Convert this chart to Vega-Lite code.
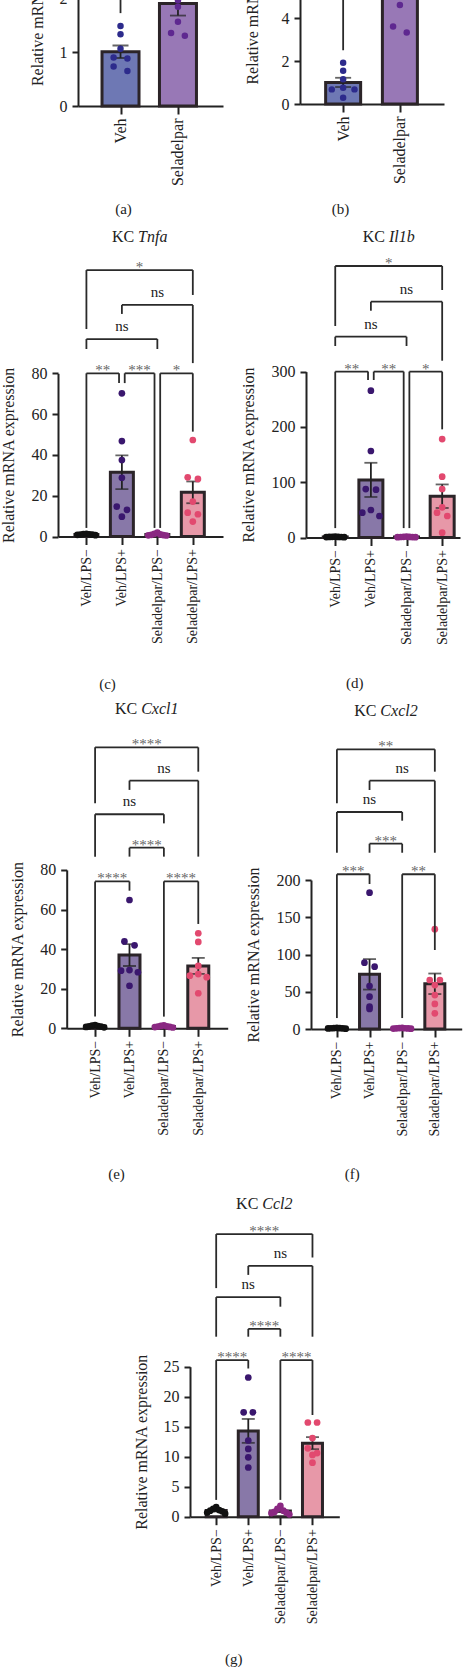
{
  "$schema": "https://vega.github.io/schema/vega-lite/v6.json",
  "width": 474,
  "height": 1667,
  "autosize": "none",
  "padding": 0,
  "datasets": {
    "pts": [
      {"p":"a","g":"Veh","v":1.48},{"p":"a","g":"Veh","v":1.33},{"p":"a","g":"Veh","v":1.06},{"p":"a","g":"Veh","v":0.88},{"p":"a","g":"Veh","v":0.90},{"p":"a","g":"Veh","v":0.65},{"p":"a","g":"Veh","v":0.73},
      {"p":"a","g":"Seladelpar","v":1.96},{"p":"a","g":"Seladelpar","v":1.84},{"p":"a","g":"Seladelpar","v":1.56},{"p":"a","g":"Seladelpar","v":1.30},{"p":"a","g":"Seladelpar","v":1.35},{"p":"a","g":"Seladelpar","v":2.30},{"p":"a","g":"Seladelpar","v":2.99},
      {"p":"b","g":"Veh","v":1.92},{"p":"b","g":"Veh","v":1.55},{"p":"b","g":"Veh","v":1.15},{"p":"b","g":"Veh","v":0.76},{"p":"b","g":"Veh","v":0.68},{"p":"b","g":"Veh","v":0.68},{"p":"b","g":"Veh","v":0.29},
      {"p":"b","g":"Seladelpar","v":4.6},{"p":"b","g":"Seladelpar","v":3.33},{"p":"b","g":"Seladelpar","v":3.6},{"p":"b","g":"Seladelpar","v":5.6},{"p":"b","g":"Seladelpar","v":6.4},{"p":"b","g":"Seladelpar","v":7.0},{"p":"b","g":"Seladelpar","v":9.5},
      {"p":"c","g":"Veh/LPS−","v":1.35},{"p":"c","g":"Veh/LPS−","v":1.2},{"p":"c","g":"Veh/LPS−","v":1.05},{"p":"c","g":"Veh/LPS−","v":0.95},{"p":"c","g":"Veh/LPS−","v":0.9},{"p":"c","g":"Veh/LPS−","v":0.8},{"p":"c","g":"Veh/LPS−","v":0.65},
      {"p":"c","g":"Veh/LPS+","v":70.2},{"p":"c","g":"Veh/LPS+","v":46.8},{"p":"c","g":"Veh/LPS+","v":37.5},{"p":"c","g":"Veh/LPS+","v":28.8},{"p":"c","g":"Veh/LPS+","v":14.6},{"p":"c","g":"Veh/LPS+","v":13.1},{"p":"c","g":"Veh/LPS+","v":9.7},
      {"p":"c","g":"Seladelpar/LPS−","v":1.9},{"p":"c","g":"Seladelpar/LPS−","v":1.3},{"p":"c","g":"Seladelpar/LPS−","v":1.0},{"p":"c","g":"Seladelpar/LPS−","v":0.8},{"p":"c","g":"Seladelpar/LPS−","v":0.7},{"p":"c","g":"Seladelpar/LPS−","v":0.6},{"p":"c","g":"Seladelpar/LPS−","v":0.5},
      {"p":"c","g":"Seladelpar/LPS+","v":47.3},{"p":"c","g":"Seladelpar/LPS+","v":29.0},{"p":"c","g":"Seladelpar/LPS+","v":28.2},{"p":"c","g":"Seladelpar/LPS+","v":17.1},{"p":"c","g":"Seladelpar/LPS+","v":11.7},{"p":"c","g":"Seladelpar/LPS+","v":10.9},{"p":"c","g":"Seladelpar/LPS+","v":7.3},
      {"p":"d","g":"Veh/LPS−","v":1.5},{"p":"d","g":"Veh/LPS−","v":1.3},{"p":"d","g":"Veh/LPS−","v":1.1},{"p":"d","g":"Veh/LPS−","v":1.0},{"p":"d","g":"Veh/LPS−","v":0.9},{"p":"d","g":"Veh/LPS−","v":0.7},{"p":"d","g":"Veh/LPS−","v":0.5},
      {"p":"d","g":"Veh/LPS+","v":265.5},{"p":"d","g":"Veh/LPS+","v":156.4},{"p":"d","g":"Veh/LPS+","v":87.5},{"p":"d","g":"Veh/LPS+","v":86.5},{"p":"d","g":"Veh/LPS+","v":49.7},{"p":"d","g":"Veh/LPS+","v":44.8},{"p":"d","g":"Veh/LPS+","v":38.9},
      {"p":"d","g":"Seladelpar/LPS−","v":1.6},{"p":"d","g":"Seladelpar/LPS−","v":1.2},{"p":"d","g":"Seladelpar/LPS−","v":1.0},{"p":"d","g":"Seladelpar/LPS−","v":0.9},{"p":"d","g":"Seladelpar/LPS−","v":0.8},{"p":"d","g":"Seladelpar/LPS−","v":0.6},{"p":"d","g":"Seladelpar/LPS−","v":0.5},
      {"p":"d","g":"Seladelpar/LPS+","v":178},{"p":"d","g":"Seladelpar/LPS+","v":110},{"p":"d","g":"Seladelpar/LPS+","v":87.7},{"p":"d","g":"Seladelpar/LPS+","v":54.6},{"p":"d","g":"Seladelpar/LPS+","v":44.8},{"p":"d","g":"Seladelpar/LPS+","v":38.9},{"p":"d","g":"Seladelpar/LPS+","v":8.7},
      {"p":"e","g":"Veh/LPS−","v":1.6},{"p":"e","g":"Veh/LPS−","v":1.3},{"p":"e","g":"Veh/LPS−","v":1.1},{"p":"e","g":"Veh/LPS−","v":1.0},{"p":"e","g":"Veh/LPS−","v":0.9},{"p":"e","g":"Veh/LPS−","v":0.7},{"p":"e","g":"Veh/LPS−","v":0.5},
      {"p":"e","g":"Veh/LPS+","v":64.8},{"p":"e","g":"Veh/LPS+","v":43.9},{"p":"e","g":"Veh/LPS+","v":41.9},{"p":"e","g":"Veh/LPS+","v":29.4},{"p":"e","g":"Veh/LPS+","v":29.1},{"p":"e","g":"Veh/LPS+","v":28.3},{"p":"e","g":"Veh/LPS+","v":21.5},
      {"p":"e","g":"Seladelpar/LPS−","v":1.5},{"p":"e","g":"Seladelpar/LPS−","v":1.2},{"p":"e","g":"Seladelpar/LPS−","v":1.0},{"p":"e","g":"Seladelpar/LPS−","v":0.9},{"p":"e","g":"Seladelpar/LPS−","v":0.7},{"p":"e","g":"Seladelpar/LPS−","v":0.6},{"p":"e","g":"Seladelpar/LPS−","v":0.4},
      {"p":"e","g":"Seladelpar/LPS+","v":48.0},{"p":"e","g":"Seladelpar/LPS+","v":43.6},{"p":"e","g":"Seladelpar/LPS+","v":31.5},{"p":"e","g":"Seladelpar/LPS+","v":27.4},{"p":"e","g":"Seladelpar/LPS+","v":26.6},{"p":"e","g":"Seladelpar/LPS+","v":25.8},{"p":"e","g":"Seladelpar/LPS+","v":17.7},
      {"p":"f","g":"Veh/LPS−","v":1.6},{"p":"f","g":"Veh/LPS−","v":1.3},{"p":"f","g":"Veh/LPS−","v":1.1},{"p":"f","g":"Veh/LPS−","v":1.0},{"p":"f","g":"Veh/LPS−","v":0.9},{"p":"f","g":"Veh/LPS−","v":0.7},{"p":"f","g":"Veh/LPS−","v":0.5},
      {"p":"f","g":"Veh/LPS+","v":183},{"p":"f","g":"Veh/LPS+","v":89},{"p":"f","g":"Veh/LPS+","v":83.6},{"p":"f","g":"Veh/LPS+","v":57.7},{"p":"f","g":"Veh/LPS+","v":43.4},{"p":"f","g":"Veh/LPS+","v":30},{"p":"f","g":"Veh/LPS+","v":27},
      {"p":"f","g":"Seladelpar/LPS−","v":1.5},{"p":"f","g":"Seladelpar/LPS−","v":1.2},{"p":"f","g":"Seladelpar/LPS−","v":1.0},{"p":"f","g":"Seladelpar/LPS−","v":0.9},{"p":"f","g":"Seladelpar/LPS−","v":0.7},{"p":"f","g":"Seladelpar/LPS−","v":0.6},{"p":"f","g":"Seladelpar/LPS−","v":0.4},
      {"p":"f","g":"Seladelpar/LPS+","v":134},{"p":"f","g":"Seladelpar/LPS+","v":65.8},{"p":"f","g":"Seladelpar/LPS+","v":65.8},{"p":"f","g":"Seladelpar/LPS+","v":59},{"p":"f","g":"Seladelpar/LPS+","v":45.6},{"p":"f","g":"Seladelpar/LPS+","v":33.6},{"p":"f","g":"Seladelpar/LPS+","v":21},
      {"p":"g","g":"Veh/LPS−","v":1.6},{"p":"g","g":"Veh/LPS−","v":1.3},{"p":"g","g":"Veh/LPS−","v":1.1},{"p":"g","g":"Veh/LPS−","v":1.0},{"p":"g","g":"Veh/LPS−","v":0.9},{"p":"g","g":"Veh/LPS−","v":0.7},{"p":"g","g":"Veh/LPS−","v":0.5},
      {"p":"g","g":"Veh/LPS+","v":23.2},{"p":"g","g":"Veh/LPS+","v":17.4},{"p":"g","g":"Veh/LPS+","v":17.4},{"p":"g","g":"Veh/LPS+","v":12.7},{"p":"g","g":"Veh/LPS+","v":11.3},{"p":"g","g":"Veh/LPS+","v":9.9},{"p":"g","g":"Veh/LPS+","v":8.2},
      {"p":"g","g":"Seladelpar/LPS−","v":1.8},{"p":"g","g":"Seladelpar/LPS−","v":1.3},{"p":"g","g":"Seladelpar/LPS−","v":1.0},{"p":"g","g":"Seladelpar/LPS−","v":0.8},{"p":"g","g":"Seladelpar/LPS−","v":0.7},{"p":"g","g":"Seladelpar/LPS−","v":0.6},{"p":"g","g":"Seladelpar/LPS−","v":0.4},
      {"p":"g","g":"Seladelpar/LPS+","v":15.7},{"p":"g","g":"Seladelpar/LPS+","v":15.7},{"p":"g","g":"Seladelpar/LPS+","v":13.1},{"p":"g","g":"Seladelpar/LPS+","v":11.4},{"p":"g","g":"Seladelpar/LPS+","v":10.6},{"p":"g","g":"Seladelpar/LPS+","v":10.3},{"p":"g","g":"Seladelpar/LPS+","v":9.0}
    ],
    "br": [
      {"p":"a","a":"Veh","b":"Seladelpar","y":3.5,"ya":1.72,"yb":3.2,"t":""},
      {"p":"b","a":"Veh","b":"Seladelpar","y":10.6,"ya":2.5,"yb":10.1,"t":""},
      {"p":"c","a":"Veh/LPS−","b":"Veh/LPS+","y":80,"ya":4.2,"yb":75.2,"t":"**"},
      {"p":"c","a":"Veh/LPS+","b":"Seladelpar/LPS−","y":80,"ya":75.2,"yb":4.2,"t":"***"},
      {"p":"c","a":"Seladelpar/LPS−","b":"Seladelpar/LPS+","y":80,"ya":4.2,"yb":51.4,"t":"*"},
      {"p":"c","a":"Veh/LPS−","b":"Seladelpar/LPS−","y":96.8,"ya":91.9,"yb":91.9,"t":"ns"},
      {"p":"c","a":"Veh/LPS+","b":"Seladelpar/LPS+","y":113.5,"ya":109.1,"yb":85.0,"t":"ns"},
      {"p":"c","a":"Veh/LPS−","b":"Seladelpar/LPS+","y":130.6,"ya":101.7,"yb":118.4,"t":"*"},
      {"p":"d","a":"Veh/LPS−","b":"Veh/LPS+","y":300,"ya":17,"yb":284.8,"t":"**"},
      {"p":"d","a":"Veh/LPS+","b":"Seladelpar/LPS−","y":300,"ya":284.8,"yb":17,"t":"**"},
      {"p":"d","a":"Seladelpar/LPS−","b":"Seladelpar/LPS+","y":300,"ya":17,"yb":195.6,"t":"*"},
      {"p":"d","a":"Veh/LPS−","b":"Seladelpar/LPS−","y":363.1,"ya":346.3,"yb":346.3,"t":"ns"},
      {"p":"d","a":"Veh/LPS+","b":"Seladelpar/LPS+","y":426.4,"ya":410.1,"yb":319.7,"t":"ns"},
      {"p":"d","a":"Veh/LPS−","b":"Seladelpar/LPS+","y":491,"ya":382.5,"yb":447.6,"t":"*"},
      {"p":"e","a":"Veh/LPS−","b":"Veh/LPS+","y":74.2,"ya":5.9,"yb":69.5,"t":"****"},
      {"p":"e","a":"Seladelpar/LPS−","b":"Seladelpar/LPS+","y":74.2,"ya":5.9,"yb":52.7,"t":"****"},
      {"p":"e","a":"Veh/LPS+","b":"Seladelpar/LPS−","y":91.2,"ya":86.7,"yb":86.7,"t":"****"},
      {"p":"e","a":"Veh/LPS−","b":"Seladelpar/LPS−","y":108.1,"ya":86.7,"yb":103.5,"t":"ns"},
      {"p":"e","a":"Veh/LPS+","b":"Seladelpar/LPS+","y":125.1,"ya":120.4,"yb":86.7,"t":"ns"},
      {"p":"e","a":"Veh/LPS−","b":"Seladelpar/LPS+","y":141.9,"ya":113.6,"yb":129.6,"t":"****"},
      {"p":"f","a":"Veh/LPS−","b":"Veh/LPS+","y":207.7,"ya":14.7,"yb":194.6,"t":"***"},
      {"p":"f","a":"Seladelpar/LPS−","b":"Seladelpar/LPS+","y":207.7,"ya":14.7,"yb":106,"t":"**"},
      {"p":"f","a":"Veh/LPS+","b":"Seladelpar/LPS−","y":248.7,"ya":236.6,"yb":236.6,"t":"***"},
      {"p":"f","a":"Veh/LPS−","b":"Seladelpar/LPS−","y":291.3,"ya":236.6,"yb":279.6,"t":"ns"},
      {"p":"f","a":"Veh/LPS+","b":"Seladelpar/LPS+","y":333.3,"ya":320.8,"yb":236.6,"t":"ns"},
      {"p":"f","a":"Veh/LPS−","b":"Seladelpar/LPS+","y":375.4,"ya":303,"yb":345.4,"t":"**"},
      {"p":"g","a":"Veh/LPS−","b":"Veh/LPS+","y":26.1,"ya":2.8,"yb":24.7,"t":"****"},
      {"p":"g","a":"Seladelpar/LPS−","b":"Seladelpar/LPS+","y":26.1,"ya":2.8,"yb":16.95,"t":"****"},
      {"p":"g","a":"Veh/LPS+","b":"Seladelpar/LPS−","y":31.3,"ya":30,"yb":30,"t":"****"},
      {"p":"g","a":"Veh/LPS−","b":"Seladelpar/LPS−","y":36.6,"ya":30,"yb":35,"t":"ns"},
      {"p":"g","a":"Veh/LPS+","b":"Seladelpar/LPS+","y":41.8,"ya":40.3,"yb":30,"t":"ns"},
      {"p":"g","a":"Veh/LPS−","b":"Seladelpar/LPS+","y":47.1,"ya":38.1,"yb":43.2,"t":"****"}
    ]
  },
  "resolve": {"scale": {"x": "independent", "y": "independent"}},
  "layer": [
    {
      "layer": [
        {
          "data": {"name": "pts"},
          "transform": [
            {"filter": "datum.p == 'a'"},
            {"aggregate": [{"op": "mean", "field": "v", "as": "m"}, {"op": "stderr", "field": "v", "as": "se"}], "groupby": ["g"]},
            {"calculate": "indexof(['Veh','Seladelpar'], datum.g)", "as": "i"},
            {"calculate": "datum.m - datum.se", "as": "lo"},
            {"calculate": "datum.m + datum.se", "as": "hi"}
          ],
          "layer": [
            {"mark": {"type": "bar", "width": 37, "stroke": "#2b2428", "strokeWidth": 3},
             "encoding": {
               "x": {"field": "i", "type": "quantitative", "scale": {"domain": [-0.653, 1.697], "range": [78, 223], "nice": false, "zero": false},
                     "axis": {"orient": "bottom", "offset": -1561, "values": [0, 1], "labelExpr": "['Veh','Seladelpar'][datum.value]", "labelFontSize": 16, "title": "(a)", "titleX": 123, "titleY": 102, "titleBaseline": "middle", "titleFontSize": 15}},
               "y": {"field": "m", "type": "quantitative", "scale": {"domain": [0, 4], "range": [106, -110], "nice": false, "zero": true},
                     "axis": {"orient": "left", "offset": -78, "values": [0, 1, 2, 3, 4], "format": "d", "title": "Relative mRNA expression", "titleX": -41, "titleBaseline": "middle"}},
               "fill": {"field": "g", "type": "nominal", "legend": null,
                        "scale": {"domain": ["Veh","Seladelpar","Veh/LPS−","Veh/LPS+","Seladelpar/LPS−","Seladelpar/LPS+"], "range": ["#6e78b4","#9878b6","#ffffff","#8878a8","#ffffff","#e798a8"]}}
             }},
            {"mark": {"type": "rule", "color": "#222", "strokeWidth": 1.8},
             "encoding": {"x": {"field": "i", "type": "quantitative"}, "y": {"field": "lo", "type": "quantitative"}, "y2": {"field": "hi"}}},
            {"mark": {"type": "tick", "orient": "horizontal", "color": "#222", "thickness": 1.8, "size": 16},
             "encoding": {"x": {"field": "i", "type": "quantitative"}, "y": {"field": "hi", "type": "quantitative"}}},
            {"mark": {"type": "tick", "orient": "horizontal", "color": "#222", "thickness": 1.8, "size": 16},
             "encoding": {"x": {"field": "i", "type": "quantitative"}, "y": {"field": "lo", "type": "quantitative"}}}
          ]
        },
        {
          "data": {"name": "pts"},
          "transform": [
            {"filter": "datum.p == 'a'"},
            {"calculate": "indexof(['Veh','Seladelpar'], datum.g)", "as": "i"},
            {"calculate": "floor(datum.v / 0.13)", "as": "r"},
            {"window": [{"op": "row_number", "as": "k"}, {"op": "count", "as": "n"}], "groupby": ["g", "r"], "sort": [{"field": "v", "order": "descending"}], "frame": [null, null]},
            {"calculate": "datum.n % 2 == 1 ? (datum.k == 1 ? 0 : (datum.k % 2 == 0 ? -1 : 1) * floor(datum.k / 2)) : (datum.k % 2 == 1 ? -1 : 1) * (floor((datum.k - 1) / 2) + 0.6)", "as": "o"},
            {"calculate": "datum.i + datum.o * 0.2", "as": "xj"}
          ],
          "mark": {"type": "circle", "size": 42, "opacity": 1},
          "encoding": {
            "x": {"field": "xj", "type": "quantitative"},
            "y": {"field": "v", "type": "quantitative"},
            "color": {"field": "g", "type": "nominal", "legend": null,
                      "scale": {"domain": ["Veh","Seladelpar","Veh/LPS−","Veh/LPS+","Seladelpar/LPS−","Seladelpar/LPS+"], "range": ["#2d2b8c","#5e2890","#111111","#3a176e","#8a2882","#e2496f"]}}
          }
        },
        {
          "data": {"name": "br"},
          "transform": [
            {"filter": "datum.p == 'a'"},
            {"calculate": "indexof(['Veh','Seladelpar'], datum.a)", "as": "xa"},
            {"calculate": "indexof(['Veh','Seladelpar'], datum.b)", "as": "xb"}
          ],
          "layer": [
            {"mark": {"type": "rule", "color": "#2a2a2a", "strokeWidth": 1.8}, "encoding": {"x": {"field": "xa", "type": "quantitative"}, "x2": {"field": "xb"}, "y": {"field": "y", "type": "quantitative"}}},
            {"mark": {"type": "rule", "color": "#2a2a2a", "strokeWidth": 1.8}, "encoding": {"x": {"field": "xa", "type": "quantitative"}, "y": {"field": "y", "type": "quantitative"}, "y2": {"field": "ya"}}},
            {"mark": {"type": "rule", "color": "#2a2a2a", "strokeWidth": 1.8}, "encoding": {"x": {"field": "xb", "type": "quantitative"}, "y": {"field": "y", "type": "quantitative"}, "y2": {"field": "yb"}}}
          ]
        }
      ]
    },
    {
      "layer": [
        {
          "data": {"name": "pts"},
          "transform": [
            {"filter": "datum.p == 'b'"},
            {"aggregate": [{"op": "mean", "field": "v", "as": "m"}, {"op": "stderr", "field": "v", "as": "se"}], "groupby": ["g"]},
            {"calculate": "indexof(['Veh','Seladelpar'], datum.g)", "as": "i"},
            {"calculate": "datum.m - datum.se", "as": "lo"},
            {"calculate": "datum.m + datum.se", "as": "hi"}
          ],
          "layer": [
            {"mark": {"type": "bar", "width": 35, "stroke": "#2b2428", "strokeWidth": 3},
             "encoding": {
               "x": {"field": "i", "type": "quantitative", "scale": {"domain": [-0.672, 1.689], "range": [300, 444], "nice": false, "zero": false},
                     "axis": {"orient": "bottom", "offset": -1563, "values": [0, 1], "labelExpr": "['Veh','Seladelpar'][datum.value]", "labelFontSize": 16, "title": "(b)", "titleX": 340, "titleY": 104, "titleBaseline": "middle", "titleFontSize": 15}},
               "y": {"field": "m", "type": "quantitative", "scale": {"domain": [0, 10], "range": [104, -111], "nice": false, "zero": true},
                     "axis": {"orient": "left", "offset": -300, "values": [0, 2, 4, 6, 8, 10], "format": "d", "title": "Relative mRNA expression", "titleX": -48, "titleBaseline": "middle"}},
               "fill": {"field": "g", "type": "nominal", "legend": null,
                        "scale": {"domain": ["Veh","Seladelpar","Veh/LPS−","Veh/LPS+","Seladelpar/LPS−","Seladelpar/LPS+"], "range": ["#6e78b4","#9878b6","#ffffff","#8878a8","#ffffff","#e798a8"]}}
             }},
            {"mark": {"type": "rule", "color": "#222", "strokeWidth": 1.8},
             "encoding": {"x": {"field": "i", "type": "quantitative"}, "y": {"field": "lo", "type": "quantitative"}, "y2": {"field": "hi"}}},
            {"mark": {"type": "tick", "orient": "horizontal", "color": "#222", "thickness": 1.8, "size": 16},
             "encoding": {"x": {"field": "i", "type": "quantitative"}, "y": {"field": "hi", "type": "quantitative"}}},
            {"mark": {"type": "tick", "orient": "horizontal", "color": "#222", "thickness": 1.8, "size": 16},
             "encoding": {"x": {"field": "i", "type": "quantitative"}, "y": {"field": "lo", "type": "quantitative"}}}
          ]
        },
        {
          "data": {"name": "pts"},
          "transform": [
            {"filter": "datum.p == 'b'"},
            {"calculate": "indexof(['Veh','Seladelpar'], datum.g)", "as": "i"},
            {"calculate": "floor(datum.v / 0.33)", "as": "r"},
            {"window": [{"op": "row_number", "as": "k"}, {"op": "count", "as": "n"}], "groupby": ["g", "r"], "sort": [{"field": "v", "order": "descending"}], "frame": [null, null]},
            {"calculate": "datum.n % 2 == 1 ? (datum.k == 1 ? 0 : (datum.k % 2 == 0 ? -1 : 1) * floor(datum.k / 2)) : (datum.k % 2 == 1 ? -1 : 1) * (floor((datum.k - 1) / 2) + 0.6)", "as": "o"},
            {"calculate": "datum.i + datum.o * 0.2", "as": "xj"}
          ],
          "mark": {"type": "circle", "size": 42, "opacity": 1},
          "encoding": {
            "x": {"field": "xj", "type": "quantitative"},
            "y": {"field": "v", "type": "quantitative"},
            "color": {"field": "g", "type": "nominal", "legend": null,
                      "scale": {"domain": ["Veh","Seladelpar","Veh/LPS−","Veh/LPS+","Seladelpar/LPS−","Seladelpar/LPS+"], "range": ["#2d2b8c","#5e2890","#111111","#3a176e","#8a2882","#e2496f"]}}
          }
        },
        {
          "data": {"name": "br"},
          "transform": [
            {"filter": "datum.p == 'b'"},
            {"calculate": "indexof(['Veh','Seladelpar'], datum.a)", "as": "xa"},
            {"calculate": "indexof(['Veh','Seladelpar'], datum.b)", "as": "xb"}
          ],
          "layer": [
            {"mark": {"type": "rule", "color": "#2a2a2a", "strokeWidth": 1.8}, "encoding": {"x": {"field": "xa", "type": "quantitative"}, "x2": {"field": "xb"}, "y": {"field": "y", "type": "quantitative"}}},
            {"mark": {"type": "rule", "color": "#2a2a2a", "strokeWidth": 1.8}, "encoding": {"x": {"field": "xa", "type": "quantitative"}, "y": {"field": "y", "type": "quantitative"}, "y2": {"field": "ya"}}},
            {"mark": {"type": "rule", "color": "#2a2a2a", "strokeWidth": 1.8}, "encoding": {"x": {"field": "xb", "type": "quantitative"}, "y": {"field": "y", "type": "quantitative"}, "y2": {"field": "yb"}}}
          ]
        }
      ]
    },
    {
      "layer": [
        {
          "data": {"name": "pts"},
          "transform": [
            {"filter": "datum.p == 'c'"},
            {"aggregate": [{"op": "mean", "field": "v", "as": "m"}, {"op": "stderr", "field": "v", "as": "se"}], "groupby": ["g"]},
            {"calculate": "indexof(['Veh/LPS−','Veh/LPS+','Seladelpar/LPS−','Seladelpar/LPS+'], datum.g)", "as": "i"},
            {"calculate": "datum.m - datum.se", "as": "lo"},
            {"calculate": "datum.m + datum.se", "as": "hi"}
          ],
          "layer": [
            {"mark": {"type": "bar", "width": 23, "stroke": "#2b2428", "strokeWidth": 3},
             "encoding": {
               "x": {"field": "i", "type": "quantitative", "scale": {"domain": [-0.66, 3.71], "range": [58, 223], "nice": false, "zero": false},
                     "axis": {"orient": "bottom", "offset": -1130.5, "values": [0, 1, 2, 3], "labelExpr": "['Veh/LPS−','Veh/LPS+','Seladelpar/LPS−','Seladelpar/LPS+'][datum.value]", "title": "(c)", "titleX": 107, "titleY": 146.5, "titleBaseline": "middle", "titleFontSize": 15}},
               "y": {"field": "m", "type": "quantitative", "scale": {"domain": [0, 80], "range": [536.5, 373.3], "nice": false, "zero": true},
                     "axis": {"orient": "left", "offset": -58, "values": [0, 20, 40, 60, 80], "format": "d", "title": "Relative mRNA expression", "titleX": -50, "titleBaseline": "middle"}},
               "fill": {"field": "g", "type": "nominal", "legend": null,
                        "scale": {"domain": ["Veh","Seladelpar","Veh/LPS−","Veh/LPS+","Seladelpar/LPS−","Seladelpar/LPS+"], "range": ["#6e78b4","#9878b6","#ffffff","#8878a8","#ffffff","#e798a8"]}}
             }},
            {"mark": {"type": "rule", "color": "#222", "strokeWidth": 1.8},
             "encoding": {"x": {"field": "i", "type": "quantitative"}, "y": {"field": "lo", "type": "quantitative"}, "y2": {"field": "hi"}}},
            {"mark": {"type": "tick", "orient": "horizontal", "color": "#222", "thickness": 1.8, "size": 13},
             "encoding": {"x": {"field": "i", "type": "quantitative"}, "y": {"field": "hi", "type": "quantitative"}}},
            {"mark": {"type": "tick", "orient": "horizontal", "color": "#222", "thickness": 1.8, "size": 13},
             "encoding": {"x": {"field": "i", "type": "quantitative"}, "y": {"field": "lo", "type": "quantitative"}}}
          ]
        },
        {
          "data": {"name": "pts"},
          "transform": [
            {"filter": "datum.p == 'c'"},
            {"calculate": "indexof(['Veh/LPS−','Veh/LPS+','Seladelpar/LPS−','Seladelpar/LPS+'], datum.g)", "as": "i"},
            {"calculate": "datum.v < 3 ? -1 : floor(datum.v / 4)", "as": "r"},
            {"window": [{"op": "row_number", "as": "k"}, {"op": "count", "as": "n"}], "groupby": ["g", "r"], "sort": [{"field": "v", "order": "descending"}], "frame": [null, null]},
            {"calculate": "datum.n % 2 == 1 ? (datum.k == 1 ? 0 : (datum.k % 2 == 0 ? -1 : 1) * floor(datum.k / 2)) : (datum.k % 2 == 1 ? -1 : 1) * (floor((datum.k - 1) / 2) + 0.6)", "as": "o"},
            {"calculate": "datum.i + datum.o * (datum.n > 3 ? 0.085 : 0.24)", "as": "xj"}
          ],
          "mark": {"type": "circle", "size": 45, "opacity": 1},
          "encoding": {
            "x": {"field": "xj", "type": "quantitative"},
            "y": {"field": "v", "type": "quantitative"},
            "color": {"field": "g", "type": "nominal", "legend": null,
                      "scale": {"domain": ["Veh","Seladelpar","Veh/LPS−","Veh/LPS+","Seladelpar/LPS−","Seladelpar/LPS+"], "range": ["#2d2b8c","#5e2890","#111111","#3a176e","#8a2882","#e2496f"]}}
          }
        },
        {
          "data": {"name": "br"},
          "transform": [
            {"filter": "datum.p == 'c'"},
            {"calculate": "indexof(['Veh/LPS−','Veh/LPS+','Seladelpar/LPS−','Seladelpar/LPS+'], datum.a)", "as": "ia"},
            {"calculate": "indexof(['Veh/LPS−','Veh/LPS+','Seladelpar/LPS−','Seladelpar/LPS+'], datum.b)", "as": "ib"},
            {"window": [{"op": "lag", "field": "ib", "as": "pb"}, {"op": "lead", "field": "ia", "as": "na"}], "groupby": ["y"], "sort": [{"field": "ia", "order": "ascending"}]},
            {"calculate": "datum.ia + (datum.pb == datum.ia ? 0.08 : 0)", "as": "xa"},
            {"calculate": "datum.ib - (datum.na == datum.ib ? 0.08 : 0)", "as": "xb"},
            {"calculate": "(datum.xa + datum.xb) / 2", "as": "xm"}
          ],
          "layer": [
            {"mark": {"type": "rule", "color": "#2a2a2a", "strokeWidth": 1.8}, "encoding": {"x": {"field": "xa", "type": "quantitative"}, "x2": {"field": "xb"}, "y": {"field": "y", "type": "quantitative"}}},
            {"mark": {"type": "rule", "color": "#2a2a2a", "strokeWidth": 1.8}, "encoding": {"x": {"field": "xa", "type": "quantitative"}, "y": {"field": "y", "type": "quantitative"}, "y2": {"field": "ya"}}},
            {"mark": {"type": "rule", "color": "#2a2a2a", "strokeWidth": 1.8}, "encoding": {"x": {"field": "xb", "type": "quantitative"}, "y": {"field": "y", "type": "quantitative"}, "y2": {"field": "yb"}}},
            {"transform": [{"filter": "datum.t == 'ns'"}], "mark": {"type": "text", "baseline": "alphabetic", "dy": -8, "fontSize": 15, "color": "#222"},
             "encoding": {"x": {"field": "xm", "type": "quantitative"}, "y": {"field": "y", "type": "quantitative"}, "text": {"field": "t"}}},
            {"transform": [{"filter": "datum.t != 'ns'"}], "mark": {"type": "text", "baseline": "alphabetic", "dy": 2, "fontSize": 15, "color": "#666"},
             "encoding": {"x": {"field": "xm", "type": "quantitative"}, "y": {"field": "y", "type": "quantitative"}, "text": {"field": "t"}}},
            {"transform": [{"aggregate": [{"op": "argmax", "field": "y", "as": "top"}]}, {"calculate": "datum.top.y", "as": "ty"}, {"calculate": "datum.top.xm", "as": "tx"}],
             "layer": [
               {"mark": {"type": "text", "text": "KC", "align": "right", "baseline": "middle", "dx": -5.5, "dy": -33, "fontSize": 16, "color": "#222"},
                "encoding": {"x": {"field": "tx", "type": "quantitative"}, "y": {"field": "ty", "type": "quantitative"}}},
               {"mark": {"type": "text", "text": "Tnfa", "fontStyle": "italic", "align": "left", "baseline": "middle", "dx": -1.5, "dy": -33, "fontSize": 16, "color": "#222"},
                "encoding": {"x": {"field": "tx", "type": "quantitative"}, "y": {"field": "ty", "type": "quantitative"}}}
             ]}
          ]
        }
      ]
    },
    {
      "layer": [
        {
          "data": {"name": "pts"},
          "transform": [
            {"filter": "datum.p == 'd'"},
            {"aggregate": [{"op": "mean", "field": "v", "as": "m"}, {"op": "stderr", "field": "v", "as": "se"}], "groupby": ["g"]},
            {"calculate": "indexof(['Veh/LPS−','Veh/LPS+','Seladelpar/LPS−','Seladelpar/LPS+'], datum.g)", "as": "i"},
            {"calculate": "datum.m - datum.se", "as": "lo"},
            {"calculate": "datum.m + datum.se", "as": "hi"}
          ],
          "layer": [
            {"mark": {"type": "bar", "width": 24, "stroke": "#2b2428", "strokeWidth": 3},
             "encoding": {
               "x": {"field": "i", "type": "quantitative", "scale": {"domain": [-0.68, 3.36], "range": [306, 460], "nice": false, "zero": false},
                     "axis": {"orient": "bottom", "offset": -1129.5, "values": [0, 1, 2, 3], "labelExpr": "['Veh/LPS−','Veh/LPS+','Seladelpar/LPS−','Seladelpar/LPS+'][datum.value]", "title": "(d)", "titleX": 354.3, "titleY": 145, "titleBaseline": "middle", "titleFontSize": 15}},
               "y": {"field": "m", "type": "quantitative", "scale": {"domain": [0, 300], "range": [537.5, 371.6], "nice": false, "zero": true},
                     "axis": {"orient": "left", "offset": -306, "values": [0, 100, 200, 300], "format": "d", "title": "Relative mRNA expression", "titleX": -58, "titleBaseline": "middle"}},
               "fill": {"field": "g", "type": "nominal", "legend": null,
                        "scale": {"domain": ["Veh","Seladelpar","Veh/LPS−","Veh/LPS+","Seladelpar/LPS−","Seladelpar/LPS+"], "range": ["#6e78b4","#9878b6","#ffffff","#8878a8","#ffffff","#e798a8"]}}
             }},
            {"mark": {"type": "rule", "color": "#222", "strokeWidth": 1.8},
             "encoding": {"x": {"field": "i", "type": "quantitative"}, "y": {"field": "lo", "type": "quantitative"}, "y2": {"field": "hi"}}},
            {"mark": {"type": "tick", "orient": "horizontal", "color": "#222", "thickness": 1.8, "size": 13},
             "encoding": {"x": {"field": "i", "type": "quantitative"}, "y": {"field": "hi", "type": "quantitative"}}},
            {"mark": {"type": "tick", "orient": "horizontal", "color": "#222", "thickness": 1.8, "size": 13},
             "encoding": {"x": {"field": "i", "type": "quantitative"}, "y": {"field": "lo", "type": "quantitative"}}}
          ]
        },
        {
          "data": {"name": "pts"},
          "transform": [
            {"filter": "datum.p == 'd'"},
            {"calculate": "indexof(['Veh/LPS−','Veh/LPS+','Seladelpar/LPS−','Seladelpar/LPS+'], datum.g)", "as": "i"},
            {"calculate": "datum.v < 10 ? -1 : floor(datum.v / 12.7)", "as": "r"},
            {"window": [{"op": "row_number", "as": "k"}, {"op": "count", "as": "n"}], "groupby": ["g", "r"], "sort": [{"field": "v", "order": "descending"}], "frame": [null, null]},
            {"calculate": "datum.n % 2 == 1 ? (datum.k == 1 ? 0 : (datum.k % 2 == 0 ? -1 : 1) * floor(datum.k / 2)) : (datum.k % 2 == 1 ? -1 : 1) * (floor((datum.k - 1) / 2) + 0.6)", "as": "o"},
            {"calculate": "datum.i + datum.o * (datum.n > 3 ? 0.084 : 0.24)", "as": "xj"}
          ],
          "mark": {"type": "circle", "size": 45, "opacity": 1},
          "encoding": {
            "x": {"field": "xj", "type": "quantitative"},
            "y": {"field": "v", "type": "quantitative"},
            "color": {"field": "g", "type": "nominal", "legend": null,
                      "scale": {"domain": ["Veh","Seladelpar","Veh/LPS−","Veh/LPS+","Seladelpar/LPS−","Seladelpar/LPS+"], "range": ["#2d2b8c","#5e2890","#111111","#3a176e","#8a2882","#e2496f"]}}
          }
        },
        {
          "data": {"name": "br"},
          "transform": [
            {"filter": "datum.p == 'd'"},
            {"calculate": "indexof(['Veh/LPS−','Veh/LPS+','Seladelpar/LPS−','Seladelpar/LPS+'], datum.a)", "as": "ia"},
            {"calculate": "indexof(['Veh/LPS−','Veh/LPS+','Seladelpar/LPS−','Seladelpar/LPS+'], datum.b)", "as": "ib"},
            {"window": [{"op": "lag", "field": "ib", "as": "pb"}, {"op": "lead", "field": "ia", "as": "na"}], "groupby": ["y"], "sort": [{"field": "ia", "order": "ascending"}]},
            {"calculate": "datum.ia + (datum.pb == datum.ia ? 0.08 : 0)", "as": "xa"},
            {"calculate": "datum.ib - (datum.na == datum.ib ? 0.08 : 0)", "as": "xb"},
            {"calculate": "(datum.xa + datum.xb) / 2", "as": "xm"}
          ],
          "layer": [
            {"mark": {"type": "rule", "color": "#2a2a2a", "strokeWidth": 1.8}, "encoding": {"x": {"field": "xa", "type": "quantitative"}, "x2": {"field": "xb"}, "y": {"field": "y", "type": "quantitative"}}},
            {"mark": {"type": "rule", "color": "#2a2a2a", "strokeWidth": 1.8}, "encoding": {"x": {"field": "xa", "type": "quantitative"}, "y": {"field": "y", "type": "quantitative"}, "y2": {"field": "ya"}}},
            {"mark": {"type": "rule", "color": "#2a2a2a", "strokeWidth": 1.8}, "encoding": {"x": {"field": "xb", "type": "quantitative"}, "y": {"field": "y", "type": "quantitative"}, "y2": {"field": "yb"}}},
            {"transform": [{"filter": "datum.t == 'ns'"}], "mark": {"type": "text", "baseline": "alphabetic", "dy": -8, "fontSize": 15, "color": "#222"},
             "encoding": {"x": {"field": "xm", "type": "quantitative"}, "y": {"field": "y", "type": "quantitative"}, "text": {"field": "t"}}},
            {"transform": [{"filter": "datum.t != 'ns'"}], "mark": {"type": "text", "baseline": "alphabetic", "dy": 2, "fontSize": 15, "color": "#666"},
             "encoding": {"x": {"field": "xm", "type": "quantitative"}, "y": {"field": "y", "type": "quantitative"}, "text": {"field": "t"}}},
            {"transform": [{"aggregate": [{"op": "argmax", "field": "y", "as": "top"}]}, {"calculate": "datum.top.y", "as": "ty"}, {"calculate": "datum.top.xm", "as": "tx"}],
             "layer": [
               {"mark": {"type": "text", "text": "KC", "align": "right", "baseline": "middle", "dx": -3.8, "dy": -29, "fontSize": 16, "color": "#222"},
                "encoding": {"x": {"field": "tx", "type": "quantitative"}, "y": {"field": "ty", "type": "quantitative"}}},
               {"mark": {"type": "text", "text": "Il1b", "fontStyle": "italic", "align": "left", "baseline": "middle", "dx": 0.2, "dy": -29, "fontSize": 16, "color": "#222"},
                "encoding": {"x": {"field": "tx", "type": "quantitative"}, "y": {"field": "ty", "type": "quantitative"}}}
             ]}
          ]
        }
      ]
    },
    {
      "layer": [
        {
          "data": {"name": "pts"},
          "transform": [
            {"filter": "datum.p == 'e'"},
            {"aggregate": [{"op": "mean", "field": "v", "as": "m"}, {"op": "stderr", "field": "v", "as": "se"}], "groupby": ["g"]},
            {"calculate": "indexof(['Veh/LPS−','Veh/LPS+','Seladelpar/LPS−','Seladelpar/LPS+'], datum.g)", "as": "i"},
            {"calculate": "datum.m - datum.se", "as": "lo"},
            {"calculate": "datum.m + datum.se", "as": "hi"}
          ],
          "layer": [
            {"mark": {"type": "bar", "width": 21, "stroke": "#2b2428", "strokeWidth": 3},
             "encoding": {
               "x": {"field": "i", "type": "quantitative", "scale": {"domain": [-0.68, 3.71], "range": [66.7, 227.7], "nice": false, "zero": false},
                     "axis": {"orient": "bottom", "offset": -638.7, "values": [0, 1, 2, 3], "labelExpr": "['Veh/LPS−','Veh/LPS+','Seladelpar/LPS−','Seladelpar/LPS+'][datum.value]", "title": "(e)", "titleX": 116, "titleY": 144.7, "titleBaseline": "middle", "titleFontSize": 15}},
               "y": {"field": "m", "type": "quantitative", "scale": {"domain": [0, 80], "range": [1028.3, 869.9], "nice": false, "zero": true},
                     "axis": {"orient": "left", "offset": -66.7, "values": [0, 20, 40, 60, 80], "format": "d", "title": "Relative mRNA expression", "titleX": -48.7, "titleBaseline": "middle"}},
               "fill": {"field": "g", "type": "nominal", "legend": null,
                        "scale": {"domain": ["Veh","Seladelpar","Veh/LPS−","Veh/LPS+","Seladelpar/LPS−","Seladelpar/LPS+"], "range": ["#6e78b4","#9878b6","#ffffff","#8878a8","#ffffff","#e798a8"]}}
             }},
            {"mark": {"type": "rule", "color": "#222", "strokeWidth": 1.8},
             "encoding": {"x": {"field": "i", "type": "quantitative"}, "y": {"field": "lo", "type": "quantitative"}, "y2": {"field": "hi"}}},
            {"mark": {"type": "tick", "orient": "horizontal", "color": "#222", "thickness": 1.8, "size": 13},
             "encoding": {"x": {"field": "i", "type": "quantitative"}, "y": {"field": "hi", "type": "quantitative"}}},
            {"mark": {"type": "tick", "orient": "horizontal", "color": "#222", "thickness": 1.8, "size": 13},
             "encoding": {"x": {"field": "i", "type": "quantitative"}, "y": {"field": "lo", "type": "quantitative"}}}
          ]
        },
        {
          "data": {"name": "pts"},
          "transform": [
            {"filter": "datum.p == 'e'"},
            {"calculate": "indexof(['Veh/LPS−','Veh/LPS+','Seladelpar/LPS−','Seladelpar/LPS+'], datum.g)", "as": "i"},
            {"calculate": "datum.v < 3 ? -1 : floor(datum.v / 4)", "as": "r"},
            {"window": [{"op": "row_number", "as": "k"}, {"op": "count", "as": "n"}], "groupby": ["g", "r"], "sort": [{"field": "v", "order": "descending"}], "frame": [null, null]},
            {"calculate": "datum.n % 2 == 1 ? (datum.k == 1 ? 0 : (datum.k % 2 == 0 ? -1 : 1) * floor(datum.k / 2)) : (datum.k % 2 == 1 ? -1 : 1) * (floor((datum.k - 1) / 2) + 0.6)", "as": "o"},
            {"calculate": "datum.i + datum.o * (datum.n > 3 ? 0.087 : 0.245)", "as": "xj"}
          ],
          "mark": {"type": "circle", "size": 45, "opacity": 1},
          "encoding": {
            "x": {"field": "xj", "type": "quantitative"},
            "y": {"field": "v", "type": "quantitative"},
            "color": {"field": "g", "type": "nominal", "legend": null,
                      "scale": {"domain": ["Veh","Seladelpar","Veh/LPS−","Veh/LPS+","Seladelpar/LPS−","Seladelpar/LPS+"], "range": ["#2d2b8c","#5e2890","#111111","#3a176e","#8a2882","#e2496f"]}}
          }
        },
        {
          "data": {"name": "br"},
          "transform": [
            {"filter": "datum.p == 'e'"},
            {"calculate": "indexof(['Veh/LPS−','Veh/LPS+','Seladelpar/LPS−','Seladelpar/LPS+'], datum.a)", "as": "ia"},
            {"calculate": "indexof(['Veh/LPS−','Veh/LPS+','Seladelpar/LPS−','Seladelpar/LPS+'], datum.b)", "as": "ib"},
            {"window": [{"op": "lag", "field": "ib", "as": "pb"}, {"op": "lead", "field": "ia", "as": "na"}], "groupby": ["y"], "sort": [{"field": "ia", "order": "ascending"}]},
            {"calculate": "datum.ia + (datum.pb == datum.ia ? 0.08 : 0)", "as": "xa"},
            {"calculate": "datum.ib - (datum.na == datum.ib ? 0.08 : 0)", "as": "xb"},
            {"calculate": "(datum.xa + datum.xb) / 2", "as": "xm"}
          ],
          "layer": [
            {"mark": {"type": "rule", "color": "#2a2a2a", "strokeWidth": 1.8}, "encoding": {"x": {"field": "xa", "type": "quantitative"}, "x2": {"field": "xb"}, "y": {"field": "y", "type": "quantitative"}}},
            {"mark": {"type": "rule", "color": "#2a2a2a", "strokeWidth": 1.8}, "encoding": {"x": {"field": "xa", "type": "quantitative"}, "y": {"field": "y", "type": "quantitative"}, "y2": {"field": "ya"}}},
            {"mark": {"type": "rule", "color": "#2a2a2a", "strokeWidth": 1.8}, "encoding": {"x": {"field": "xb", "type": "quantitative"}, "y": {"field": "y", "type": "quantitative"}, "y2": {"field": "yb"}}},
            {"transform": [{"filter": "datum.t == 'ns'"}], "mark": {"type": "text", "baseline": "alphabetic", "dy": -8, "fontSize": 15, "color": "#222"},
             "encoding": {"x": {"field": "xm", "type": "quantitative"}, "y": {"field": "y", "type": "quantitative"}, "text": {"field": "t"}}},
            {"transform": [{"filter": "datum.t != 'ns'"}], "mark": {"type": "text", "baseline": "alphabetic", "dy": 2, "fontSize": 15, "color": "#666"},
             "encoding": {"x": {"field": "xm", "type": "quantitative"}, "y": {"field": "y", "type": "quantitative"}, "text": {"field": "t"}}},
            {"transform": [{"aggregate": [{"op": "argmax", "field": "y", "as": "top"}]}, {"calculate": "datum.top.y", "as": "ty"}, {"calculate": "datum.top.xm", "as": "tx"}],
             "layer": [
               {"mark": {"type": "text", "text": "KC", "align": "right", "baseline": "middle", "dx": -9.5, "dy": -38, "fontSize": 16, "color": "#222"},
                "encoding": {"x": {"field": "tx", "type": "quantitative"}, "y": {"field": "ty", "type": "quantitative"}}},
               {"mark": {"type": "text", "text": "Cxcl1", "fontStyle": "italic", "align": "left", "baseline": "middle", "dx": -5.5, "dy": -38, "fontSize": 16, "color": "#222"},
                "encoding": {"x": {"field": "tx", "type": "quantitative"}, "y": {"field": "ty", "type": "quantitative"}}}
             ]}
          ]
        }
      ]
    },
    {
      "layer": [
        {
          "data": {"name": "pts"},
          "transform": [
            {"filter": "datum.p == 'f'"},
            {"aggregate": [{"op": "mean", "field": "v", "as": "m"}, {"op": "stderr", "field": "v", "as": "se"}], "groupby": ["g"]},
            {"calculate": "indexof(['Veh/LPS−','Veh/LPS+','Seladelpar/LPS−','Seladelpar/LPS+'], datum.g)", "as": "i"},
            {"calculate": "datum.m - datum.se", "as": "lo"},
            {"calculate": "datum.m + datum.se", "as": "hi"}
          ],
          "layer": [
            {"mark": {"type": "bar", "width": 20, "stroke": "#2b2428", "strokeWidth": 3},
             "encoding": {
               "x": {"field": "i", "type": "quantitative", "scale": {"domain": [-0.64, 3.67], "range": [311, 461.7], "nice": false, "zero": false},
                     "axis": {"orient": "bottom", "offset": -638, "values": [0, 1, 2, 3], "labelExpr": "['Veh/LPS−','Veh/LPS+','Seladelpar/LPS−','Seladelpar/LPS+'][datum.value]", "title": "(f)", "titleX": 351.7, "titleY": 144, "titleBaseline": "middle", "titleFontSize": 15}},
               "y": {"field": "m", "type": "quantitative", "scale": {"domain": [0, 200], "range": [1029, 880], "nice": false, "zero": true},
                     "axis": {"orient": "left", "offset": -311, "values": [0, 50, 100, 150, 200], "format": "d", "title": "Relative mRNA expression", "titleX": -58, "titleBaseline": "middle"}},
               "fill": {"field": "g", "type": "nominal", "legend": null,
                        "scale": {"domain": ["Veh","Seladelpar","Veh/LPS−","Veh/LPS+","Seladelpar/LPS−","Seladelpar/LPS+"], "range": ["#6e78b4","#9878b6","#ffffff","#8878a8","#ffffff","#e798a8"]}}
             }},
            {"mark": {"type": "rule", "color": "#222", "strokeWidth": 1.8},
             "encoding": {"x": {"field": "i", "type": "quantitative"}, "y": {"field": "lo", "type": "quantitative"}, "y2": {"field": "hi"}}},
            {"mark": {"type": "tick", "orient": "horizontal", "color": "#222", "thickness": 1.8, "size": 13},
             "encoding": {"x": {"field": "i", "type": "quantitative"}, "y": {"field": "hi", "type": "quantitative"}}},
            {"mark": {"type": "tick", "orient": "horizontal", "color": "#222", "thickness": 1.8, "size": 13},
             "encoding": {"x": {"field": "i", "type": "quantitative"}, "y": {"field": "lo", "type": "quantitative"}}}
          ]
        },
        {
          "data": {"name": "pts"},
          "transform": [
            {"filter": "datum.p == 'f'"},
            {"calculate": "indexof(['Veh/LPS−','Veh/LPS+','Seladelpar/LPS−','Seladelpar/LPS+'], datum.g)", "as": "i"},
            {"calculate": "datum.v < 8 ? -1 : floor(datum.v / 10)", "as": "r"},
            {"window": [{"op": "row_number", "as": "k"}, {"op": "count", "as": "n"}], "groupby": ["g", "r"], "sort": [{"field": "v", "order": "descending"}], "frame": [null, null]},
            {"calculate": "datum.n % 2 == 1 ? (datum.k == 1 ? 0 : (datum.k % 2 == 0 ? -1 : 1) * floor(datum.k / 2)) : (datum.k % 2 == 1 ? -1 : 1) * (floor((datum.k - 1) / 2) + 0.6)", "as": "o"},
            {"calculate": "datum.i + datum.o * (datum.n > 3 ? 0.09 : 0.26)", "as": "xj"}
          ],
          "mark": {"type": "circle", "size": 45, "opacity": 1},
          "encoding": {
            "x": {"field": "xj", "type": "quantitative"},
            "y": {"field": "v", "type": "quantitative"},
            "color": {"field": "g", "type": "nominal", "legend": null,
                      "scale": {"domain": ["Veh","Seladelpar","Veh/LPS−","Veh/LPS+","Seladelpar/LPS−","Seladelpar/LPS+"], "range": ["#2d2b8c","#5e2890","#111111","#3a176e","#8a2882","#e2496f"]}}
          }
        },
        {
          "data": {"name": "br"},
          "transform": [
            {"filter": "datum.p == 'f'"},
            {"calculate": "indexof(['Veh/LPS−','Veh/LPS+','Seladelpar/LPS−','Seladelpar/LPS+'], datum.a)", "as": "ia"},
            {"calculate": "indexof(['Veh/LPS−','Veh/LPS+','Seladelpar/LPS−','Seladelpar/LPS+'], datum.b)", "as": "ib"},
            {"window": [{"op": "lag", "field": "ib", "as": "pb"}, {"op": "lead", "field": "ia", "as": "na"}], "groupby": ["y"], "sort": [{"field": "ia", "order": "ascending"}]},
            {"calculate": "datum.ia + (datum.pb == datum.ia ? 0.08 : 0)", "as": "xa"},
            {"calculate": "datum.ib - (datum.na == datum.ib ? 0.08 : 0)", "as": "xb"},
            {"calculate": "(datum.xa + datum.xb) / 2", "as": "xm"}
          ],
          "layer": [
            {"mark": {"type": "rule", "color": "#2a2a2a", "strokeWidth": 1.8}, "encoding": {"x": {"field": "xa", "type": "quantitative"}, "x2": {"field": "xb"}, "y": {"field": "y", "type": "quantitative"}}},
            {"mark": {"type": "rule", "color": "#2a2a2a", "strokeWidth": 1.8}, "encoding": {"x": {"field": "xa", "type": "quantitative"}, "y": {"field": "y", "type": "quantitative"}, "y2": {"field": "ya"}}},
            {"mark": {"type": "rule", "color": "#2a2a2a", "strokeWidth": 1.8}, "encoding": {"x": {"field": "xb", "type": "quantitative"}, "y": {"field": "y", "type": "quantitative"}, "y2": {"field": "yb"}}},
            {"transform": [{"filter": "datum.t == 'ns'"}], "mark": {"type": "text", "baseline": "alphabetic", "dy": -8, "fontSize": 15, "color": "#222"},
             "encoding": {"x": {"field": "xm", "type": "quantitative"}, "y": {"field": "y", "type": "quantitative"}, "text": {"field": "t"}}},
            {"transform": [{"filter": "datum.t != 'ns'"}], "mark": {"type": "text", "baseline": "alphabetic", "dy": 2, "fontSize": 15, "color": "#666"},
             "encoding": {"x": {"field": "xm", "type": "quantitative"}, "y": {"field": "y", "type": "quantitative"}, "text": {"field": "t"}}},
            {"transform": [{"aggregate": [{"op": "argmax", "field": "y", "as": "top"}]}, {"calculate": "datum.top.y", "as": "ty"}, {"calculate": "datum.top.xm", "as": "tx"}],
             "layer": [
               {"mark": {"type": "text", "text": "KC", "align": "right", "baseline": "middle", "dx": -9.5, "dy": -38, "fontSize": 16, "color": "#222"},
                "encoding": {"x": {"field": "tx", "type": "quantitative"}, "y": {"field": "ty", "type": "quantitative"}}},
               {"mark": {"type": "text", "text": "Cxcl2", "fontStyle": "italic", "align": "left", "baseline": "middle", "dx": -5.5, "dy": -38, "fontSize": 16, "color": "#222"},
                "encoding": {"x": {"field": "tx", "type": "quantitative"}, "y": {"field": "ty", "type": "quantitative"}}}
             ]}
          ]
        }
      ]
    },
    {
      "layer": [
        {
          "data": {"name": "pts"},
          "transform": [
            {"filter": "datum.p == 'g'"},
            {"aggregate": [{"op": "mean", "field": "v", "as": "m"}, {"op": "stderr", "field": "v", "as": "se"}], "groupby": ["g"]},
            {"calculate": "indexof(['Veh/LPS−','Veh/LPS+','Seladelpar/LPS−','Seladelpar/LPS+'], datum.g)", "as": "i"},
            {"calculate": "datum.m - datum.se", "as": "lo"},
            {"calculate": "datum.m + datum.se", "as": "hi"}
          ],
          "layer": [
            {"mark": {"type": "bar", "width": 20, "stroke": "#2b2428", "strokeWidth": 3},
             "encoding": {
               "x": {"field": "i", "type": "quantitative", "scale": {"domain": [-0.66, 3.68], "range": [190, 339.3], "nice": false, "zero": false},
                     "axis": {"orient": "bottom", "offset": -150.3, "values": [0, 1, 2, 3], "labelExpr": "['Veh/LPS−','Veh/LPS+','Seladelpar/LPS−','Seladelpar/LPS+'][datum.value]", "title": "(g)", "titleX": 233.3, "titleY": 141.6, "titleBaseline": "middle", "titleFontSize": 15}},
               "y": {"field": "m", "type": "quantitative", "scale": {"domain": [0, 25], "range": [1516.7, 1366.7], "nice": false, "zero": true},
                     "axis": {"orient": "left", "offset": -190, "values": [0, 5, 10, 15, 20, 25], "format": "d", "title": "Relative mRNA expression", "titleX": -49, "titleBaseline": "middle"}},
               "fill": {"field": "g", "type": "nominal", "legend": null,
                        "scale": {"domain": ["Veh","Seladelpar","Veh/LPS−","Veh/LPS+","Seladelpar/LPS−","Seladelpar/LPS+"], "range": ["#6e78b4","#9878b6","#ffffff","#8878a8","#ffffff","#e798a8"]}}
             }},
            {"mark": {"type": "rule", "color": "#222", "strokeWidth": 1.8},
             "encoding": {"x": {"field": "i", "type": "quantitative"}, "y": {"field": "lo", "type": "quantitative"}, "y2": {"field": "hi"}}},
            {"mark": {"type": "tick", "orient": "horizontal", "color": "#222", "thickness": 1.8, "size": 13},
             "encoding": {"x": {"field": "i", "type": "quantitative"}, "y": {"field": "hi", "type": "quantitative"}}},
            {"mark": {"type": "tick", "orient": "horizontal", "color": "#222", "thickness": 1.8, "size": 13},
             "encoding": {"x": {"field": "i", "type": "quantitative"}, "y": {"field": "lo", "type": "quantitative"}}}
          ]
        },
        {
          "data": {"name": "pts"},
          "transform": [
            {"filter": "datum.p == 'g'"},
            {"calculate": "indexof(['Veh/LPS−','Veh/LPS+','Seladelpar/LPS−','Seladelpar/LPS+'], datum.g)", "as": "i"},
            {"calculate": "datum.v < 2.5 ? -1 : floor(datum.v / 1.17)", "as": "r"},
            {"window": [{"op": "row_number", "as": "k"}, {"op": "count", "as": "n"}], "groupby": ["g", "r"], "sort": [{"field": "v", "order": "descending"}], "frame": [null, null]},
            {"calculate": "datum.n % 2 == 1 ? (datum.k == 1 ? 0 : (datum.k % 2 == 0 ? -1 : 1) * floor(datum.k / 2)) : (datum.k % 2 == 1 ? -1 : 1) * (floor((datum.k - 1) / 2) + 0.6)", "as": "o"},
            {"calculate": "datum.i + datum.o * (datum.n > 3 ? 0.093 : 0.24)", "as": "xj"}
          ],
          "mark": {"type": "circle", "size": 45, "opacity": 1},
          "encoding": {
            "x": {"field": "xj", "type": "quantitative"},
            "y": {"field": "v", "type": "quantitative"},
            "color": {"field": "g", "type": "nominal", "legend": null,
                      "scale": {"domain": ["Veh","Seladelpar","Veh/LPS−","Veh/LPS+","Seladelpar/LPS−","Seladelpar/LPS+"], "range": ["#2d2b8c","#5e2890","#111111","#3a176e","#8a2882","#e2496f"]}}
          }
        },
        {
          "data": {"name": "br"},
          "transform": [
            {"filter": "datum.p == 'g'"},
            {"calculate": "indexof(['Veh/LPS−','Veh/LPS+','Seladelpar/LPS−','Seladelpar/LPS+'], datum.a)", "as": "ia"},
            {"calculate": "indexof(['Veh/LPS−','Veh/LPS+','Seladelpar/LPS−','Seladelpar/LPS+'], datum.b)", "as": "ib"},
            {"window": [{"op": "lag", "field": "ib", "as": "pb"}, {"op": "lead", "field": "ia", "as": "na"}], "groupby": ["y"], "sort": [{"field": "ia", "order": "ascending"}]},
            {"calculate": "datum.ia + (datum.pb == datum.ia ? 0.08 : 0)", "as": "xa"},
            {"calculate": "datum.ib - (datum.na == datum.ib ? 0.08 : 0)", "as": "xb"},
            {"calculate": "(datum.xa + datum.xb) / 2", "as": "xm"}
          ],
          "layer": [
            {"mark": {"type": "rule", "color": "#2a2a2a", "strokeWidth": 1.8}, "encoding": {"x": {"field": "xa", "type": "quantitative"}, "x2": {"field": "xb"}, "y": {"field": "y", "type": "quantitative"}}},
            {"mark": {"type": "rule", "color": "#2a2a2a", "strokeWidth": 1.8}, "encoding": {"x": {"field": "xa", "type": "quantitative"}, "y": {"field": "y", "type": "quantitative"}, "y2": {"field": "ya"}}},
            {"mark": {"type": "rule", "color": "#2a2a2a", "strokeWidth": 1.8}, "encoding": {"x": {"field": "xb", "type": "quantitative"}, "y": {"field": "y", "type": "quantitative"}, "y2": {"field": "yb"}}},
            {"transform": [{"filter": "datum.t == 'ns'"}], "mark": {"type": "text", "baseline": "alphabetic", "dy": -8, "fontSize": 15, "color": "#222"},
             "encoding": {"x": {"field": "xm", "type": "quantitative"}, "y": {"field": "y", "type": "quantitative"}, "text": {"field": "t"}}},
            {"transform": [{"filter": "datum.t != 'ns'"}], "mark": {"type": "text", "baseline": "alphabetic", "dy": 2, "fontSize": 15, "color": "#666"},
             "encoding": {"x": {"field": "xm", "type": "quantitative"}, "y": {"field": "y", "type": "quantitative"}, "text": {"field": "t"}}},
            {"transform": [{"aggregate": [{"op": "argmax", "field": "y", "as": "top"}]}, {"calculate": "datum.top.y", "as": "ty"}, {"calculate": "datum.top.xm", "as": "tx"}],
             "layer": [
               {"mark": {"type": "text", "text": "KC", "align": "right", "baseline": "middle", "dx": -6, "dy": -30, "fontSize": 16, "color": "#222"},
                "encoding": {"x": {"field": "tx", "type": "quantitative"}, "y": {"field": "ty", "type": "quantitative"}}},
               {"mark": {"type": "text", "text": "Ccl2", "fontStyle": "italic", "align": "left", "baseline": "middle", "dx": -2, "dy": -30, "fontSize": 16, "color": "#222"},
                "encoding": {"x": {"field": "tx", "type": "quantitative"}, "y": {"field": "ty", "type": "quantitative"}}}
             ]}
          ]
        }
      ]
    }
  ],
  "config": {
    "view": {"stroke": null},
    "font": "Liberation Serif",
    "axis": {
      "grid": false, "domainColor": "#222", "domainWidth": 2, "tickColor": "#222", "tickWidth": 2,
      "labelColor": "#222", "titleColor": "#222", "labelFont": "Liberation Serif", "titleFont": "Liberation Serif",
      "titleFontWeight": "normal", "labelFontSize": 16, "titleFontSize": 16, "labelFlush": false, "labelOverlap": false
    },
    "axisY": {"tickSize": 6, "labelPadding": 5},
    "axisX": {"tickSize": 8, "labelPadding": 4, "labelAngle": -90, "labelFontSize": 14},
    "text": {"font": "Liberation Serif"}
  }
}
